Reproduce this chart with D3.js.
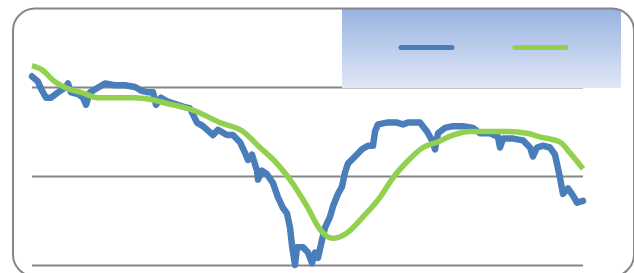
<!DOCTYPE html>
<html>
<head>
<meta charset="utf-8">
<script src="https://cdn.jsdelivr.net/npm/d3@7"></script>
<style>
  html, body { margin: 0; padding: 0; background: #fff; }
  svg { display: block; }
</style>
</head>
<body>
<div class="chart"></div>
<script>
// raw series (t = position along the axis, v = value)
let rawT = [0, 6, 9, 14, 19, 26, 34, 36, 39, 46, 51, 54, 58, 64, 73, 83, 93, 103, 109, 116,
  121, 124, 129, 135, 151, 158, 165, 171, 181, 186, 195, 201, 208, 213, 216, 220, 225, 226, 230, 235,
  241, 246, 251, 255, 258, 260, 263, 265, 271, 276, 280, 283, 286, 290, 293, 298, 301, 306, 310, 313,
  316, 323, 330, 336, 341, 343, 346, 355, 365, 371, 376, 383, 388, 395, 400, 403, 406, 413, 421, 431,
  441, 448, 458, 466, 468, 471, 481, 491, 498, 501, 505, 511, 518, 523, 528, 531, 536, 541, 545, 551]
let rawV = [106, 103, 99, 94, 94, 97, 100, 102, 97, 96, 94, 90, 97, 99, 102, 101, 101, 100, 98, 97,
  97, 90, 94, 92, 89, 88, 80, 78, 73, 76, 73, 73, 69, 63, 59, 62, 53, 48, 53, 51,
  46, 38, 32, 29, 21, 11, 0, 10, 10, 7, 1, 7, 4, 14, 21, 27, 33, 40, 44, 52,
  57, 61, 65, 67, 67, 75, 79, 80, 80, 79, 80, 80, 80, 75, 70, 65, 74, 77, 78, 78,
  77, 74, 74, 72, 66, 71, 71, 70, 66, 61, 66, 67, 66, 62, 49, 40, 43, 39, 35, 36]

// smoothed series
let smoothT = [0, 9, 23, 36, 49, 66, 83, 103, 119, 133, 161, 188, 211, 228, 245, 258, 275, 288,
  301, 315, 331, 348, 361, 375, 391, 405, 421, 438, 455, 475, 495, 508, 528, 538, 551]
let smoothV = [112, 110, 103, 99, 97, 94, 94, 94, 93, 91, 87, 80, 75, 66, 57, 48, 33, 20,
  15, 18, 27, 38, 49, 58, 66, 69, 73, 75, 75, 75, 74, 72, 69, 63, 54]

let gridValues = [0, 50, 100]
let seriesColors = ['#4a7ebb', '#92d050']

let width = 634, height = 273

let svg = d3.select('.chart')
  .append('svg')
    .attr('width', width)
    .attr('height', height)

let defs = svg.append('defs')
let grad = defs.append('linearGradient')
    .attr('id', 'legendFill')
    .attr('x1', 0).attr('y1', 0).attr('x2', 0).attr('y2', 1)
grad.append('stop').attr('offset', '0%').attr('stop-color', '#98b3e1')
grad.append('stop').attr('offset', '100%').attr('stop-color', '#e1e8f5')

let xScale = d3.scaleLinear().domain([0, 551]).range([32, 583])
let yScale = d3.scaleLinear().domain([0, 100]).range([265, 87])

// gridlines
let yAxis = d3.axisLeft(yScale)
  .tickValues(gridValues)
  .tickSize(-(xScale.range()[1] - xScale.range()[0]))
  .tickFormat('')

svg.append('g')
    .attr('transform', `translate(${xScale.range()[0]}, 0)`)
  .call(yAxis)
  .call(g => g.select('.domain').remove())
  .selectAll('line')
    .style('stroke', '#868686')
    .style('stroke-width', 2)

let line = d3.line()
  .x(d => xScale(d[0]))
  .y(d => yScale(d[1]))

let rawData = rawT.map((t, i) => [t, rawV[i]])
let smoothData = smoothT.map((t, i) => [t, smoothV[i]])

svg.append('path')
  .datum(rawData)
    .attr('d', line.curve(d3.curveLinear))
    .style('fill', 'none')
    .style('stroke', seriesColors[0])
    .style('stroke-width', 6.5)
    .style('stroke-linejoin', 'round')
    .style('stroke-linecap', 'round')

svg.append('path')
  .datum(smoothData)
    .attr('d', line.curve(d3.curveMonotoneX))
    .style('fill', 'none')
    .style('stroke', seriesColors[1])
    .style('stroke-width', 5.5)
    .style('stroke-linejoin', 'round')

// legend
let legend = svg.append('g')
legend.append('rect')
    .attr('x', 342)
    .attr('y', 9)
    .attr('width', 279)
    .attr('height', 79)
    .style('fill', 'url(#legendFill)')

legend.selectAll('line')
  .data(seriesColors)
  .enter()
  .append('line')
    .attr('x1', (d, i) => 401 + i * 114)
    .attr('x2', (d, i) => 452 + i * 114)
    .attr('y1', 47.5)
    .attr('y2', 47.5)
    .style('stroke', d => d)
    .style('stroke-width', 5)
    .style('stroke-linecap', 'round')

// chart frame
svg.append('rect')
    .attr('x', 13)
    .attr('y', 8.5)
    .attr('width', 621)
    .attr('height', 268)
    .attr('rx', 22)
    .style('fill', 'none')
    .style('stroke', '#868686')
    .style('stroke-width', 2)
</script>
</body>
</html>
